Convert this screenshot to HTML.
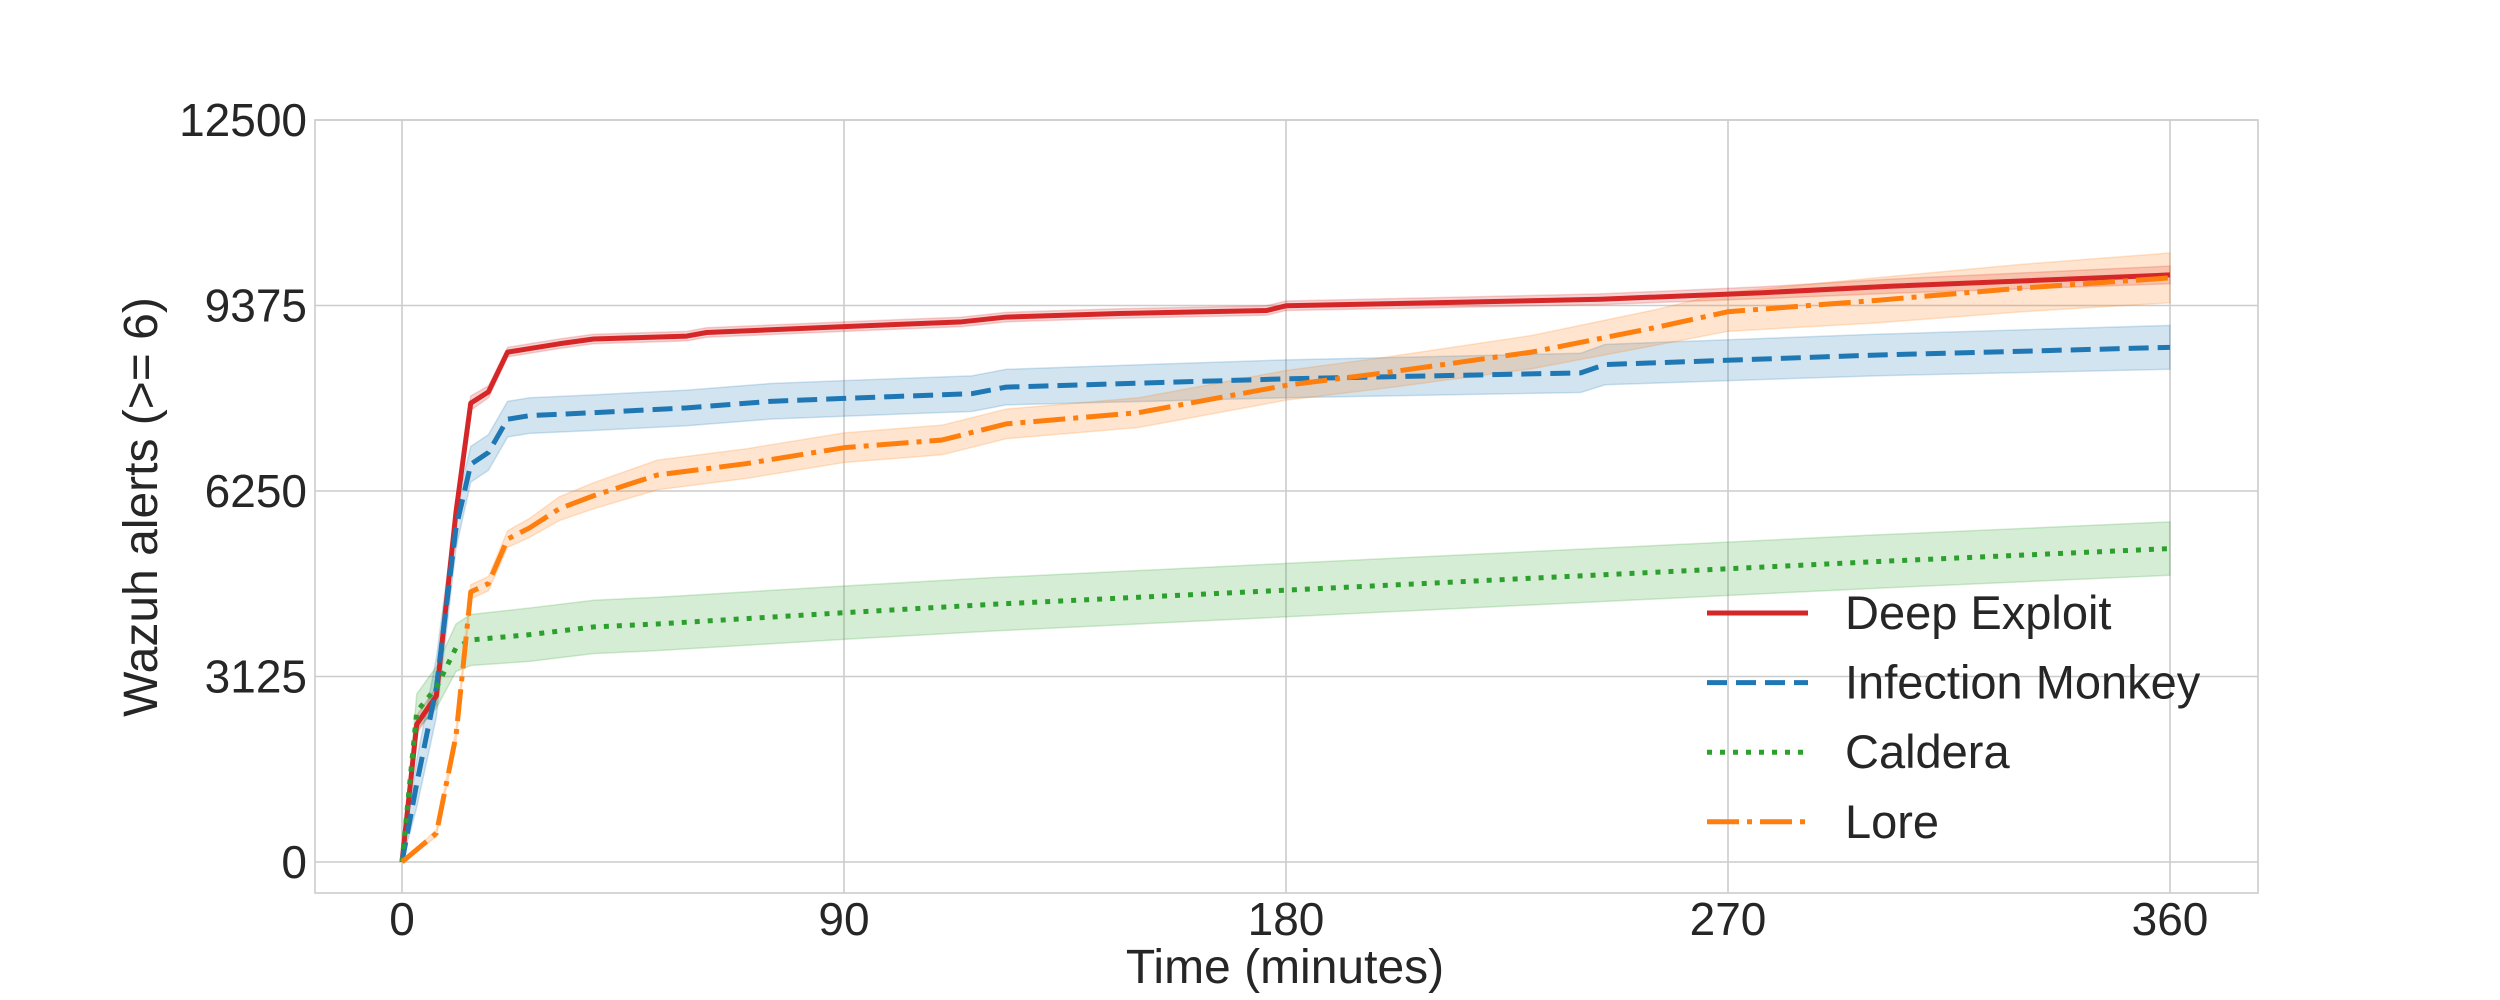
<!DOCTYPE html>
<html><head><meta charset="utf-8"><style>
body{margin:0;background:#fff;}
svg{display:block;font-family:"Liberation Sans",sans-serif;}
</style></head><body>
<svg id="chart" width="2500" height="1000" xmlns="http://www.w3.org/2000/svg"></svg>
<script>
const xTicks=[0,90,180,270,360];
const yTicks=[0,3125,6250,9375,12500];
const seriesNames=["Deep Exploit","Infection Monkey","Caldera","Lore"];
const deepT=[0,3,7,11,14,17.6,21.5,26,32,39,58,62,90,114,123,146,176,180,244,277,303,360];
const deepV=[0,2320,2800,5900,7730,7920,8590,8650,8730,8810,8860,8920,9020,9100,9180,9240,9290,9370,9480,9590,9700,9890];
const deepCI=[0,150,150,150,120,100,80,80,80,80,80,80,80,80,80,80,80,80,90,100,120,150];
const monkT=[0,3,7,11,14,17.6,21.5,26,39,58,75,90,116,123,180,240,245,300,360];
const monkV=[0,1320,2940,5630,6700,6900,7460,7520,7570,7650,7760,7810,7890,8000,8140,8240,8380,8540,8670];
const monkCI=[0,400,500,350,300,300,300,300,300,300,300,300,300,300,320,330,340,350,370];
const caldT=[0,3,7,11,14,26,39,52,90,120,180,240,300,360];
const caldV=[0,2530,2940,3610,3740,3830,3960,4010,4200,4340,4580,4820,5060,5280];
const caldCI=[0,300,350,400,430,450,450,450,450,450,450,450,450,450];
const loreT=[0,7,11,14,17.6,21.5,26,32,39,52,70,90,110,123,150,180,200,230,255,270,300,330,360];
const loreV=[0,485,2130,4550,4690,5440,5630,5950,6170,6520,6710,6980,7110,7380,7570,8030,8240,8590,9000,9270,9460,9670,9840];
const loreCI=[0,60,100,120,120,140,160,200,220,250,250,250,250,250,250,250,260,280,300,330,380,400,420];

const NS="http://www.w3.org/2000/svg";
const svg=document.getElementById('chart');
const L=315,R=2258,T=120,B=893;
const X=t=>402+(t/360)*(2170-402);
const Y=v=>862-(v/12500)*(862-120);
function mk(tag,attrs,parent){const e=document.createElementNS(NS,tag);for(const k in attrs)e.setAttribute(k,attrs[k]);(parent||svg).appendChild(e);return e;}

const grid=mk('g',{});


xTicks.forEach(t=>{const l=mk('line',{x1:X(t),x2:X(t),y1:T,y2:B,stroke:'#cccccc','stroke-width':1.6},grid);


const tx=mk('text',{x:X(t),y:935,'font-size':46,'text-anchor':'middle',fill:'#262626'});tx.textContent=t;

});
yTicks.forEach(v=>{const l=mk('line',{x1:L,x2:R,y1:Y(v),y2:Y(v),stroke:'#cccccc','stroke-width':1.6},grid);


const tx=mk('text',{x:307,y:Y(v)+16,'font-size':46,'text-anchor':'end',fill:'#262626'});tx.textContent=v;

});
const frame=mk('rect',{x:L,y:T,width:R-L,height:B-T,fill:'none',stroke:'#cccccc','stroke-width':1.6});



const colors=['#d62728','#1f77b4','#2ca02c','#ff7f0e'];
const dashes=['none','20 9','5 8','32 8 5 8'];
const data=[[deepT,deepV,deepCI],[monkT,monkV,monkCI],[caldT,caldV,caldCI],[loreT,loreV,loreCI]];
const bands=[];
data.forEach((d,i)=>{const [ts,vs,ci]=d;
let p=ts.map((t,j)=>X(t)+','+Y(vs[j]+ci[j])).join(' ');
p+=' '+ts.map((t,j)=>X(t)+','+Y(Math.max(0,vs[j]-ci[j]))).reverse().join(' ');
const b=mk('polygon',{points:p,fill:colors[i],'fill-opacity':0.2,stroke:colors[i],'stroke-opacity':0.2,'stroke-width':1.5});

});
data.forEach((d,i)=>{const [ts,vs]=d;
const l=mk('polyline',{points:ts.map((t,j)=>X(t)+','+Y(vs[j])).join(' '),fill:'none',stroke:colors[i],'stroke-width':5,'stroke-dasharray':dashes[i],'stroke-linejoin':'round'});

});

const leg=mk('g',{});


seriesNames.forEach((n,i)=>{const y=613+i*69.6;
const l=mk('line',{x1:1707,x2:1808,y1:y,y2:y,stroke:colors[i],'stroke-width':5,'stroke-dasharray':dashes[i]},leg);


const tx=mk('text',{x:1845,y:y+16,'font-size':47,fill:'#262626'},leg);tx.textContent=n;

});

const xt=mk('text',{x:1285,y:983,'font-size':48,'text-anchor':'middle',fill:'#262626'});xt.textContent='Time (minutes)';


const yt=mk('text',{x:0,y:0,'font-size':48,'text-anchor':'middle',fill:'#262626',transform:'translate(157,507) rotate(-90)'});yt.textContent='Wazuh alerts (>= 6)';


</script>
</body></html>
